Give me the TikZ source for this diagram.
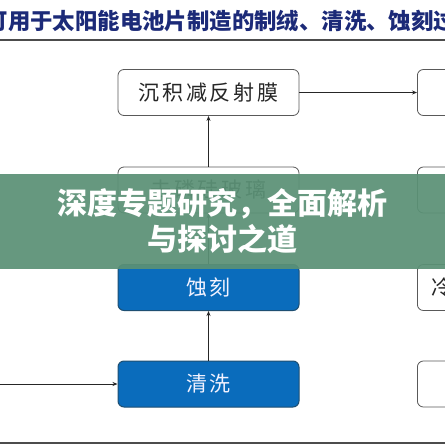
\documentclass[tikz,border=0pt]{standalone}
\usepackage{fontspec}
\newfontfamily\cjk{Noto Sans CJK SC}
\newfontfamily\cjkwide[LetterSpace=14]{Noto Sans CJK SC}
\usetikzlibrary{arrows.meta}
\definecolor{titleblue}{HTML}{1C2A78}
\definecolor{boxblue}{HTML}{0A6CBC}
\definecolor{boxedge}{HTML}{1E4F72}
\definecolor{bannergreen}{HTML}{5B9176}
\begin{document}
\begin{tikzpicture}[x=1pt,y=-1pt,
  wbox/.style={draw=black!65,line width=0.8pt,rounded corners=6pt,fill=white,minimum width=181pt,minimum height=46pt,inner sep=0pt,font=\cjkwide\fontsize{21}{22}\selectfont,text=black!85},
  bbox/.style={draw=boxedge,line width=1pt,rounded corners=6pt,fill=boxblue,minimum width=181pt,minimum height=46pt,inner sep=0pt,font=\cjkwide\fontsize{21}{22}\selectfont,text=blue!5},
  conn/.style={draw=black!85,line width=0.8pt,-{Stealth[length=5pt,width=4pt]}}]
\useasboundingbox (0,0) rectangle (445,445);
\clip (0,0) rectangle (445,445);
\fill[white] (0,0) rectangle (445,445);
% title
\node[anchor=west,inner sep=0pt,text=titleblue,font=\cjk\bfseries\fontsize{22.4}{24}\selectfont] (title) at (-14.5,21) {可用于太阳能电池片制造的制绒、清洗、蚀刻过};
\draw[black!70,line width=1.3pt] (0,40) -- (445,40);
\draw[black!70,line width=1.3pt] (0,443) -- (445,443);
% left column
\node[wbox] (b1) at (208.5,92.5) {沉积减反射膜};
\node[wbox] (b2) at (208.5,190) {去磷硅玻璃};
\node[bbox] (b3) at (208.5,287.5) {蚀刻};
\node[bbox] (b4) at (208.5,384) {清洗};
% right column
\node[wbox,anchor=west] (r1) at (417,92.5) {};
\node[wbox,anchor=west] (r2) at (417,190) {};
\node[wbox,anchor=west] (r3) at (417,287.5) {};
\node[anchor=west,inner sep=0pt,font=\cjk\fontsize{21}{22}\selectfont,text=black!85] (r3t) at (431,287.5) {冷};
\node[wbox,anchor=west] (r4) at (417,384) {};
% connectors
\coordinate (in) at (0,384);
\draw[conn] (in) -- (b4.west);
\draw[conn] (b4.north) -- (b3.south);
\draw[conn] (b3.north) -- (b2.south);
\draw[conn] (b2.north) -- (b1.south);
\draw[conn] (b1.east) -- (r1.west);
% banner
\fill[bannergreen,fill opacity=0.93] (0,174) rectangle (445,269);
\node[text=white,font=\cjk\bfseries\fontsize{30}{36}\selectfont,align=center,inner sep=0pt] (banner) at (222.5,221.5) {深度专题研究，全面解析\\与探讨之道};
\end{tikzpicture}
\end{document}
